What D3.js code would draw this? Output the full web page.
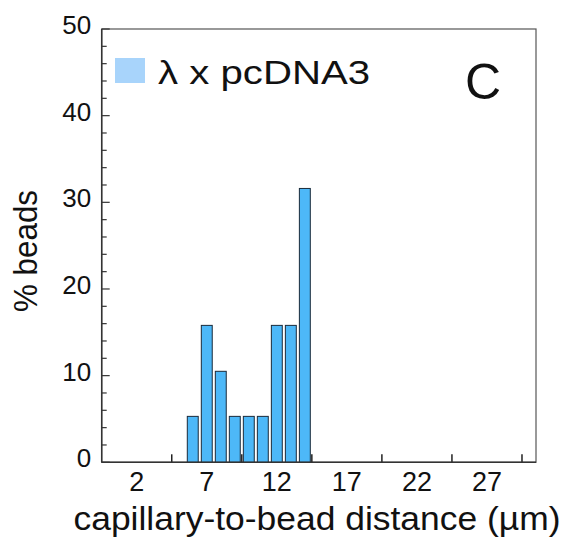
<!DOCTYPE html>
<html>
<head>
<meta charset="utf-8">
<script src="https://cdn.jsdelivr.net/npm/d3@7"></script>
<style>
  html, body { margin: 0; padding: 0; background: #ffffff; }
  svg { display: block; }
  text { font-family: "Liberation Sans", Arial, Helvetica, sans-serif; fill: #111; }
</style>
</head>
<body>
<svg id="chart" width="569" height="543"></svg>
<script>
// ---- data ----
const distances = [6, 7, 8, 9, 10, 11, 12, 13, 14];          // capillary-to-bead distance (µm), bin centres
const percentBeads = [5.3, 15.8, 10.5, 5.3, 5.3, 5.3, 15.8, 15.8, 31.6]; // % beads
const xTickLabels = [2, 7, 12, 17, 22, 27];
const xTickMarks = [4.5, 9.5, 14.5, 19.5, 24.5, 29.5];
const yTickLabels = [0, 10, 20, 30, 40, 50];
const yMinorTicks = d3.range(0, 51, 2);
const seriesName = "λ x pcDNA3";
const panelLetter = "C";

// ---- layout ----
const svg = d3.select("#chart");
const pLeft = 101.7, pRight = 536, pTop = 29, pBottom = 462.3;

const x = d3.scaleLinear().domain([-0.5, 30.5]).range([pLeft, pRight]);
const y = d3.scaleLinear().domain([0, 50]).range([pBottom, pTop]);
const unit = x(1) - x(0);
const barW = unit * 0.78;

// frame
svg.append("rect")
  .attr("x", pLeft).attr("y", pTop)
  .attr("width", pRight - pLeft).attr("height", pBottom - pTop)
  .attr("fill", "none").attr("stroke", "#555").attr("stroke-width", 1.2);

// bars
svg.append("g").selectAll("rect")
  .data(distances.map((d, i) => ({ d, v: percentBeads[i] })))
  .join("rect")
  .attr("x", p => x(p.d) - barW / 2)
  .attr("y", p => y(p.v))
  .attr("width", barW)
  .attr("height", p => y(0) - y(p.v))
  .attr("fill", "#4db8f8")
  .attr("stroke", "#1a2a3a")
  .attr("stroke-width", 1);

// y axis (inward ticks)
const yAxis = svg.append("g").attr("transform", `translate(${pLeft},0)`);
yAxis.selectAll("line.tick")
  .data(yMinorTicks)
  .join("line")
  .attr("class", "tick")
  .attr("x1", 0).attr("x2", d => d % 10 === 0 ? 8 : 5)
  .attr("y1", d => y(d)).attr("y2", d => y(d))
  .attr("stroke", "#333").attr("stroke-width", 1.2);
yAxis.selectAll("text")
  .data(yTickLabels)
  .join("text")
  .attr("x", -10.5)
  .attr("y", d => y(d) + 5)
  .attr("text-anchor", "end")
  .attr("font-size", 26)
  .text(d => d);
yAxis.append("line")
  .attr("x1", 0).attr("x2", 0).attr("y1", pTop).attr("y2", pBottom)
  .attr("stroke", "#333").attr("stroke-width", 1.5);

// x axis (inward ticks)
const xAxis = svg.append("g");
xAxis.selectAll("line.tick")
  .data(xTickMarks)
  .join("line")
  .attr("class", "tick")
  .attr("x1", d => x(d)).attr("x2", d => x(d))
  .attr("y1", pBottom).attr("y2", pBottom - 8)
  .attr("stroke", "#222").attr("stroke-width", 1.5);
xAxis.selectAll("text")
  .data(xTickLabels)
  .join("text")
  .attr("x", d => x(d))
  .attr("y", 491)
  .attr("text-anchor", "middle")
  .attr("font-size", 27)
  .text(d => d);
xAxis.append("line")
  .attr("x1", pLeft).attr("x2", pRight).attr("y1", pBottom).attr("y2", pBottom)
  .attr("stroke", "#333").attr("stroke-width", 1.5);

// axis titles
svg.append("text")
  .attr("x", 317).attr("y", 530)
  .attr("text-anchor", "middle")
  .attr("font-size", 34)
  .attr("textLength", 487)
  .attr("lengthAdjust", "spacingAndGlyphs")
  .text("capillary-to-bead distance (\u00b5m)");

svg.append("text")
  .attr("transform", "translate(37,251) rotate(-90)")
  .attr("text-anchor", "middle")
  .attr("font-size", 34)
  .attr("textLength", 122)
  .attr("lengthAdjust", "spacingAndGlyphs")
  .text("% beads");

// legend
svg.append("rect")
  .attr("x", 115).attr("y", 58)
  .attr("width", 30).attr("height", 25)
  .attr("fill", "#a8d4fb");
svg.append("text")
  .attr("x", 158).attr("y", 83.5)
  .attr("font-size", 33)
  .attr("textLength", 212)
  .attr("lengthAdjust", "spacingAndGlyphs")
  .text(seriesName);

// panel letter
svg.append("text")
  .attr("x", 483).attr("y", 99)
  .attr("text-anchor", "middle")
  .attr("font-size", 50)
  .text(panelLetter);
</script>
</body>
</html>
